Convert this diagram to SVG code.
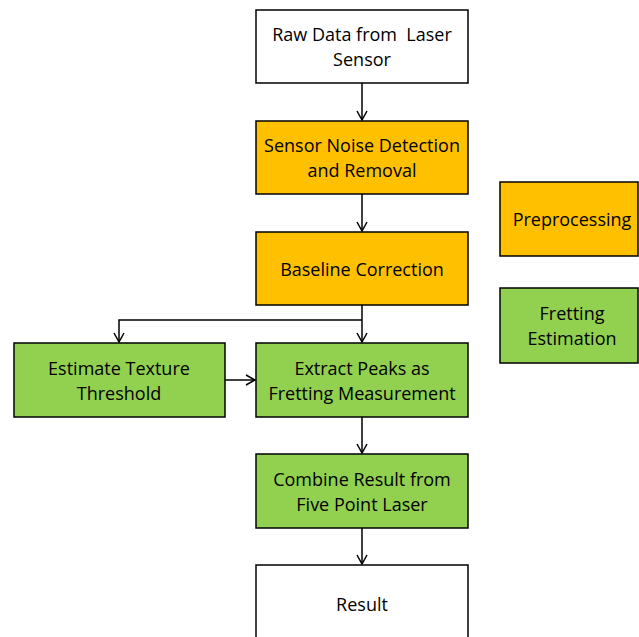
<svg xmlns="http://www.w3.org/2000/svg" width="639" height="637" viewBox="0 0 639 637">
<style>
.b{stroke:#000;stroke-width:1.5}
.w{fill:#fff}.o{fill:#FFC000}.g{fill:#92D050}
text{font-family:"Open Sans","Liberation Sans",sans-serif;font-size:18px;fill:#000;text-anchor:middle;dominant-baseline:central}
.c{fill:none;stroke:#000;stroke-width:1.5}
</style>
<defs>
<marker id="a" markerWidth="12" markerHeight="12" refX="10" refY="6" orient="auto" markerUnits="userSpaceOnUse">
<path d="M1,1 L10,6 L1,11" fill="none" stroke="#000" stroke-width="1.5"/>
</marker>
</defs>
<rect width="639" height="637" fill="#fff"/>
<g id="connectors">
<line class="c" x1="362" y1="83" x2="362" y2="120" marker-end="url(#a)"/>
<line class="c" x1="362" y1="194" x2="362" y2="231" marker-end="url(#a)"/>
<line class="c" x1="362" y1="305" x2="362" y2="342" marker-end="url(#a)"/>
<polyline class="c" points="362,320 119,320 119,342" marker-end="url(#a)"/>
<line class="c" x1="225" y1="380" x2="255" y2="380" marker-end="url(#a)"/>
<line class="c" x1="362" y1="417" x2="362" y2="453" marker-end="url(#a)"/>
<line class="c" x1="362" y1="528" x2="362" y2="564" marker-end="url(#a)"/>
</g>
<g id="raw"><rect class="b w" x="256" y="10" width="212" height="73"/><text x="362" y="34" xml:space="preserve">Raw Data from  Laser</text><text x="362" y="59">Sensor</text></g>
<g id="noise"><rect class="b o" x="256" y="121" width="212" height="73"/><text x="362" y="145">Sensor Noise Detection</text><text x="362" y="170">and Removal</text></g>
<g id="baseline"><rect class="b o" x="256" y="232" width="212" height="73"/><text x="362" y="269">Baseline Correction</text></g>
<g id="texture"><rect class="b g" x="14" y="343" width="211" height="74"/><text x="119" y="368">Estimate Texture</text><text x="119" y="393">Threshold</text></g>
<g id="peaks"><rect class="b g" x="256" y="343" width="212" height="74"/><text x="362" y="368">Extract Peaks as</text><text x="362" y="393">Fretting Measurement</text></g>
<g id="combine"><rect class="b g" x="256" y="454" width="212" height="74"/><text x="362" y="479">Combine Result from</text><text x="362" y="504">Five Point Laser</text></g>
<g id="result"><rect class="b w" x="256" y="565" width="212" height="80"/><text x="362" y="604">Result</text></g>
<g id="legend-pre"><rect class="b o" x="500" y="182" width="138" height="74"/><text x="572" y="219">Preprocessing</text></g>
<g id="legend-fret"><rect class="b g" x="500" y="288" width="138" height="75"/><text x="572" y="313">Fretting</text><text x="572" y="338">Estimation</text></g>
</svg>
